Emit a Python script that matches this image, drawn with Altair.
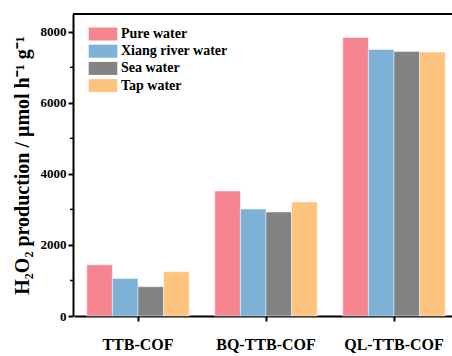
import altair as alt
import pandas as pd

# H2O2 production rates of three COFs measured in different water sources
catalysts = ["TTB-COF", "BQ-TTB-COF", "QL-TTB-COF"]
waters = ["Pure water", "Xiang river water", "Sea water", "Tap water"]
pure_water = [1440, 3517, 7840]
xiang_river_water = [1055, 3012, 7503]
sea_water = [825, 2928, 7447]
tap_water = [1245, 3209, 7430]
colors = ["#F5868F", "#7EB2D8", "#838383", "#FEC47F"]
major_ticks = [0, 2000, 4000, 6000, 8000]
minor_ticks = [1000, 3000, 5000, 7000]

rows = []
for series, vals in zip(waters, [pure_water, xiang_river_water, sea_water, tap_water]):
    for cat, v in zip(catalysts, vals):
        rows.append({"catalyst": cat, "water": series, "rate": v})
df = pd.DataFrame(rows)

W, H = 379, 302
FONT = "Liberation Serif"
YMAX = 8500

yscale = alt.Scale(domain=[0, YMAX], nice=False, zero=True)

bars = alt.Chart(df).mark_bar(stroke="white", strokeWidth=0.8, strokeOpacity=0.6).encode(
    x=alt.X(
        "catalyst:N",
        sort=catalysts,
        scale=alt.Scale(range=[1, 385], paddingInner=0.2, paddingOuter=0.1),
        axis=alt.Axis(
            title=None, labelAngle=0, labelFont=FONT, labelFontWeight="bold",
            labelFontSize=16, labelColor="black", labelPadding=15,
            tickSize=5, tickWidth=2, tickColor="black",
            domainColor="black", domainWidth=2, grid=False,
        ),
    ),
    xOffset=alt.XOffset("water:N", sort=waters, scale=alt.Scale(paddingInner=0, paddingOuter=0)),
    y=alt.Y(
        "rate:Q",
        scale=yscale,
        axis=alt.Axis(
            title="H₂O₂ production / μmol h⁻¹ g⁻¹",
            titleFont=FONT, titleFontWeight="bold", titleFontSize=20,
            titleColor="black", titlePadding=8,
            values=major_ticks, format="d",
            labelFont=FONT, labelFontWeight="bold", labelFontSize=13,
            labelColor="black", labelPadding=2,
            tickSize=5, tickWidth=2, tickColor="black",
            domainColor="black", domainWidth=2, grid=False,
        ),
    ),
    color=alt.Color(
        "water:N",
        sort=waters,
        scale=alt.Scale(domain=waters, range=colors),
        legend=alt.Legend(
            title=None, orient="none", legendX=23, legendY=13, padding=0,
            symbolType="M-2.2,-1H2.2V1H-2.2Z", symbolSize=169,
            symbolStrokeWidth=0, symbolOpacity=1,
            labelFont=FONT, labelFontWeight="bold", labelFontSize=14,
            labelColor="black", labelOffset=11, rowPadding=3.2,
        ),
    ),
)

# minor ticks on the value axis
minor = alt.Chart(pd.DataFrame({"v": minor_ticks})).mark_rule(
    color="black", strokeWidth=1.5
).encode(
    y=alt.Y("v:Q", scale=yscale),
    x=alt.value(-3),
    x2=alt.value(0),
)

# upper frame line
top = alt.Chart(pd.DataFrame({"v": [YMAX]})).mark_rule(
    color="black", strokeWidth=2
).encode(
    y=alt.Y("v:Q", scale=yscale),
    x=alt.value(0),
    x2=alt.value(W + 10),
)

chart = alt.layer(bars, minor, top).properties(
    width=W,
    height=H,
    autosize=alt.AutoSizeParams(type="none"),
    padding={"left": 73, "top": 14, "right": 0, "bottom": 40},
).configure_view(stroke=None).configure(
    background="white", font=FONT
).configure_legend(labelFont=FONT, labelFontWeight="bold")

chart.save("out.html", embed_options={"renderer": "svg", "actions": False})
